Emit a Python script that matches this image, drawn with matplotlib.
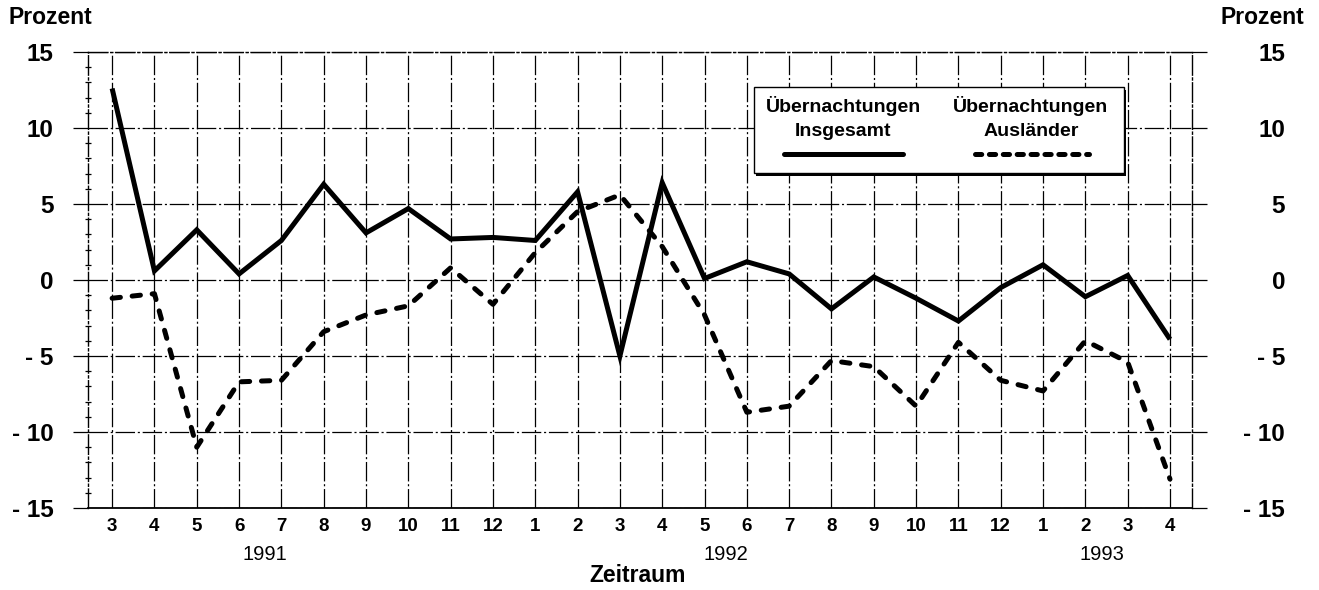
import matplotlib
matplotlib.use("Agg")
import matplotlib.pyplot as plt
from matplotlib.patches import Rectangle
from matplotlib.lines import Line2D
from matplotlib.ticker import MultipleLocator

plt.rcParams['font.family'] = ['Liberation Sans', 'DejaVu Sans']
plt.rcParams['lines.scale_dashes'] = False

# ---- data ----
months = [3, 4, 5, 6, 7, 8, 9, 10, 11, 12,
          1, 2, 3, 4, 5, 6, 7, 8, 9, 10, 11, 12,
          1, 2, 3, 4]
years = ['1991', '1992', '1993']
year_pos = [3.6, 14.5, 23.4]
insgesamt = [12.6, 0.6, 3.3, 0.4, 2.6, 6.3, 3.1, 4.7, 2.7, 2.8,
             2.6, 5.8, -5.0, 6.4, 0.1, 1.2, 0.4, -1.9, 0.2, -1.2, -2.7, -0.5,
             1.0, -1.1, 0.3, -3.9]
auslaender = [-1.2, -0.9, -11.0, -6.7, -6.6, -3.4, -2.3, -1.7, 0.8, -1.6,
              1.8, 4.5, 5.6, 2.2, -2.3, -8.7, -8.3, -5.3, -5.7, -8.3, -4.1, -6.6,
              -7.3, -4.0, -5.4, -13.1]
yticks = [15, 10, 5, 0, -5, -10, -15]
yticklabels = ['15', '10', '5', '0', '- 5', '- 10', '- 15']
label_ins = 'Übernachtungen\nInsgesamt'
label_aus = 'Übernachtungen\nAusländer'

W, H = 1319, 590
fig = plt.figure(figsize=(W / 100, H / 100), dpi=100)
ax = fig.add_axes([88 / W, 1 - 508 / H, (1192 - 88) / W, (508 - 52) / H])

x = list(range(len(months)))
gridstyle = (0, (14, 2, 1.5, 2))

ax.set_xlim(-0.57, len(months) - 1 + 0.52)
ax.set_ylim(-15, 15)

# grid
for xi in x:
    ax.axvline(xi, color='black', lw=0.9, ls=gridstyle, zorder=1)
for yv in yticks:
    ax.axhline(yv, color='black', lw=0.9, ls=gridstyle, zorder=1)

for side in ['left', 'right', 'top', 'bottom']:
    ax.spines[side].set_linewidth(1.0)
    ax.spines[side].set_linestyle(gridstyle)
ax.spines['bottom'].set_linestyle('-')
ax.spines['bottom'].set_linewidth(1.3)

ax.plot(x, insgesamt, color='black', lw=3.6, solid_joinstyle='miter',
        solid_capstyle='butt', zorder=3)
ax.plot(x, auslaender, color='black', lw=3.6, ls=(0, (6, 8.5)),
        dash_capstyle='round', zorder=3)

ax.set_xticks(x)
ax.set_xticklabels([str(m) for m in months], fontsize=13.5, fontweight='bold')
ax.tick_params(axis='x', length=0, pad=7)

ax.set_yticks(yticks)
ax.set_yticklabels(yticklabels, fontsize=17.5, fontweight='bold')
ax.yaxis.set_minor_locator(MultipleLocator(1))
ax.tick_params(axis='y', which='major', direction='out', length=11, width=0.9, pad=14)
ax.tick_params(axis='y', which='minor', direction='inout', length=5, width=0.9,
               left=True, right=True)

ax2 = ax.twinx()
ax2.set_ylim(-15, 15)
ax2.set_yticks(yticks)
ax2.set_yticklabels(yticklabels, fontsize=17.5, fontweight='bold')
ax2.tick_params(axis='y', which='major', direction='out', length=11, width=0.9, pad=56)
for lab in ax2.get_yticklabels():
    lab.set_horizontalalignment('right')
for s in ax2.spines.values():
    s.set_visible(False)

# year labels
for yr, xp in zip(years, year_pos):
    ax.text(xp, -0.103, yr, transform=ax.get_xaxis_transform(), ha='center',
            va='center', fontsize=14.5)

fig.text(638 / W, 1 - 575 / H, 'Zeitraum', ha='center', va='center',
         fontsize=16.5, fontweight='bold')
fig.text(8 / W, 1 - 17 / H, 'Prozent', ha='left', va='center', fontsize=16.5,
         fontweight='bold')
fig.text(1304 / W, 1 - 17 / H, 'Prozent', ha='right', va='center', fontsize=16.5,
         fontweight='bold')

# legend (manual)
bx0, bx1, by0, by1 = 0.603, 0.938, 0.735, 0.923
ax.add_patch(Rectangle((bx0 + 0.002, by0 - 0.006), bx1 - bx0, by1 - by0,
                       transform=ax.transAxes, facecolor='black', edgecolor='none',
                       zorder=4))
ax.add_patch(Rectangle((bx0, by0), bx1 - bx0, by1 - by0, transform=ax.transAxes,
                       facecolor='white', edgecolor='black', lw=1.0, zorder=5))
ax.text(0.684, 0.856, label_ins, transform=ax.transAxes, ha='center', va='center',
        fontsize=14, fontweight='bold', linespacing=1.55, zorder=6)
ax.text(0.854, 0.856, label_aus, transform=ax.transAxes, ha='center', va='center',
        fontsize=14, fontweight='bold', linespacing=1.55, zorder=6)
ax.add_line(Line2D([0.630, 0.738], [0.776, 0.776], transform=ax.transAxes,
                   color='black', lw=3.6, solid_capstyle='round', zorder=6))
ax.add_line(Line2D([0.803, 0.907], [0.776, 0.776], transform=ax.transAxes,
                   color='black', lw=3.6, ls=(0, (4.5, 5.5)), dash_capstyle='round',
                   zorder=6))

fig.savefig('out.png', dpi=100)
